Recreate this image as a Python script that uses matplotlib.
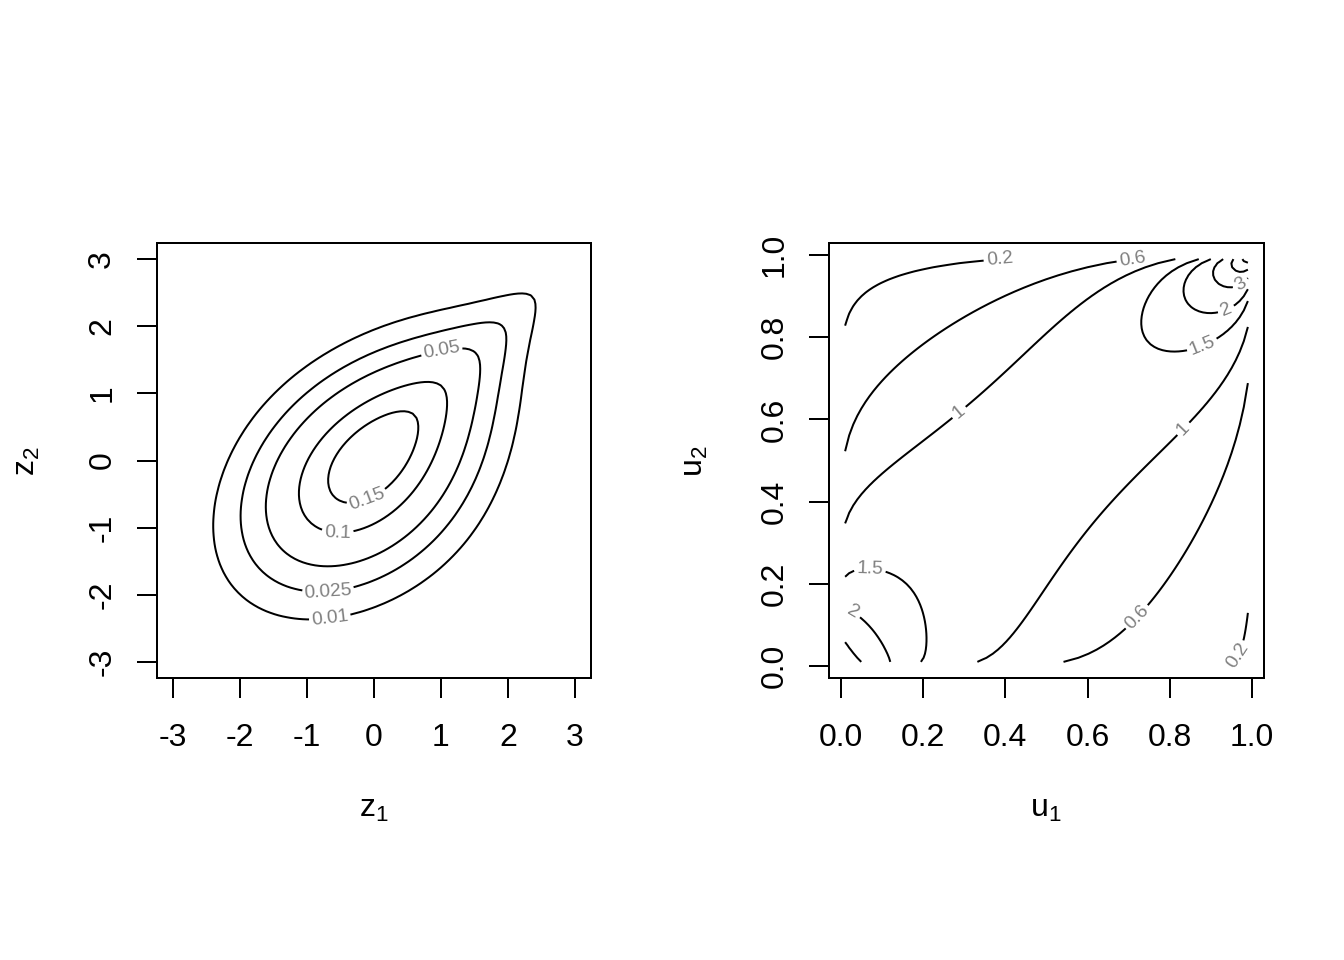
import numpy as np
import matplotlib.pyplot as plt
from math import erfc

plt.rcParams['font.family'] = ['Liberation Sans', 'DejaVu Sans']
plt.rcParams['mathtext.fontset'] = 'custom'
plt.rcParams['mathtext.rm'] = 'Liberation Sans'
plt.rcParams['mathtext.it'] = 'Liberation Sans'
plt.rcParams['axes.unicode_minus'] = False

# copula used for both panels: mixture of a Gaussian copula and a Tawn copula
w_tawn = 0.7
rho = 0.45
theta = 1.6
psi1 = 0.8
psi2 = 1.0

# contour levels (normal scale / uniform scale)
levels_z = [0.01, 0.025, 0.05, 0.1, 0.15, 0.2]
levels_u = [0.2, 0.6, 1, 1.5, 2, 3, 5, 10, 20]

# evaluation grids
z_range = (-3, 3)
u_range = (0.01, 0.99)
n_grid = 100

z_ticks = [-3, -2, -1, 0, 1, 2, 3]
u_ticks = [0.0, 0.2, 0.4, 0.6, 0.8, 1.0]

# where the contour labels sit (data coords)
lab_z = {0.01: [(-0.66, -2.34)], 0.025: [(-0.69, -1.89)], 0.05: [(1.03, 1.53)],
         0.1: [(-0.54, -0.99)], 0.15: [(-0.18, -0.37)]}
lab_u = {0.2: [(0.55, 0.99), (0.93, 0.05)], 0.6: [(0.71, 0.99), (0.74, 0.10)],
         1: [(0.26, 0.65), (0.83, 0.58)], 1.5: [(0.875, 0.79), (0.07, 0.23)],
         2: [(0.94, 0.86), (0.027, 0.127)], 3: [(0.965, 0.94)]}


erfc_v = np.vectorize(erfc)
zt = np.linspace(-9, 9, 20001)
Pt = 0.5 * erfc_v(-zt / np.sqrt(2))


def pnorm(z):
    return 0.5 * erfc_v(-z / np.sqrt(2))


def qnorm(p):
    return np.interp(p, Pt, zt)


def dnorm(z):
    return np.exp(-z ** 2 / 2) / np.sqrt(2 * np.pi)


def tawn_c(u, v, th, p1, p2):
    x = -np.log(u)
    y = -np.log(v)
    S = (p1 * x) ** th + (p2 * y) ** th
    l = (1 - p1) * x + (1 - p2) * y + S ** (1 / th)
    lx = (1 - p1) + S ** (1 / th - 1) * p1 ** th * x ** (th - 1)
    ly = (1 - p2) + S ** (1 / th - 1) * p2 ** th * y ** (th - 1)
    lxy = (1 - th) * S ** (1 / th - 2) * (p1 * p2) ** th * (x * y) ** (th - 1)
    return np.exp(-l) / (u * v) * (lx * ly - lxy)


def gauss_c(a, b, r):
    return np.exp(-(r * r * (a * a + b * b) - 2 * r * a * b) / (2 * (1 - r * r))) / np.sqrt(1 - r * r)


def cop_density(a, b, u, v):
    return (1 - w_tawn) * gauss_c(a, b, rho) + w_tawn * tawn_c(u, v, theta, psi1, psi2)


def draw_contours(ax, X, Y, D, levels, labpos):
    for lv in levels:
        if D.min() > lv or D.max() < lv:
            continue
        cs = ax.contour(X, Y, D, levels=[lv], colors='black', linewidths=0.75)
        if lv in labpos:
            cs.clabel(manual=labpos[lv], inline=True, fontsize=7.2, colors='#808080',
                      fmt='%g', inline_spacing=4)


z = np.linspace(z_range[0], z_range[1], n_grid)
Z1, Z2 = np.meshgrid(z, z)
dens_z = cop_density(Z1, Z2, pnorm(Z1), pnorm(Z2)) * dnorm(Z1) * dnorm(Z2)

u = np.linspace(u_range[0], u_range[1], n_grid)
U1, U2 = np.meshgrid(u, u)
dens_u = cop_density(qnorm(U1), qnorm(U2), U1, U2)

fig = plt.figure(figsize=(7, 5), dpi=192)
ax1 = fig.add_axes([157 / 1344, 1 - 678 / 960, 434 / 1344, 435 / 960])
ax2 = fig.add_axes([829 / 1344, 1 - 678 / 960, 435 / 1344, 435 / 960])

draw_contours(ax1, Z1, Z2, dens_z, levels_z, lab_z)
draw_contours(ax2, U1, U2, dens_u, levels_u, lab_u)

ext = 0.04 * (z_range[1] - z_range[0])
ax1.set_xlim(z_range[0] - ext, z_range[1] + ext)
ax1.set_ylim(z_range[0] - ext, z_range[1] + ext)
ext = 0.04 * (u_range[1] - u_range[0])
ax2.set_xlim(u_range[0] - ext, u_range[1] + ext)
ax2.set_ylim(u_range[0] - ext, u_range[1] + ext)

ax1.set_xticks(z_ticks, labels=[str(t) for t in z_ticks])
ax1.set_yticks(z_ticks, labels=[str(t) for t in z_ticks])
ax2.set_xticks(u_ticks, labels=['%.1f' % t for t in u_ticks])
ax2.set_yticks(u_ticks, labels=['%.1f' % t for t in u_ticks])

for ax in (ax1, ax2):
    for sp in ax.spines.values():
        sp.set_linewidth(0.75)
    ax.tick_params(direction='out', length=7.4, width=0.75, labelsize=12, color='black')
    ax.tick_params(axis='x', pad=9.5)
    ax.tick_params(axis='y', pad=7.5, labelrotation=90)
    plt.setp(ax.get_yticklabels(), va='center')

fig.text(374 / 1344, 1 - 817 / 960, r'$\mathrm{z}_1$', ha='center', va='baseline', fontsize=12)
fig.text(1046 / 1344, 1 - 817 / 960, r'$\mathrm{u}_1$', ha='center', va='baseline', fontsize=12)
fig.text(35 / 1344, 1 - 461 / 960, r'$\mathrm{z}_2$', rotation=90, rotation_mode='anchor',
         ha='center', va='baseline', fontsize=12)
fig.text(703 / 1344, 1 - 461 / 960, r'$\mathrm{u}_2$', rotation=90, rotation_mode='anchor',
         ha='center', va='baseline', fontsize=12)

plt.savefig('out.png', dpi=192)
